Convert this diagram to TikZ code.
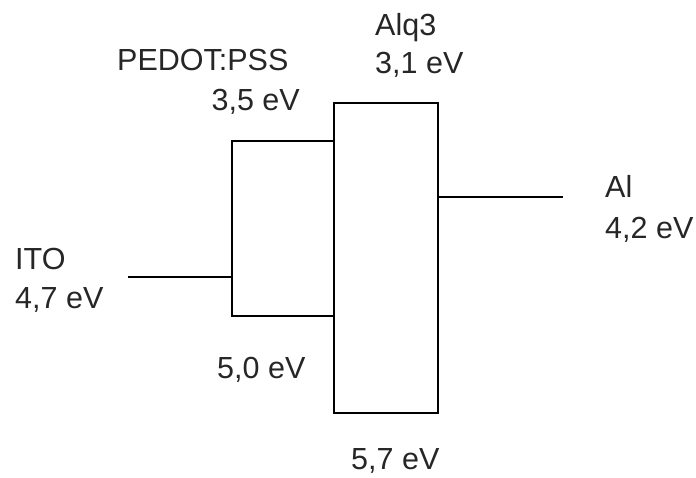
\documentclass[tikz,border=0pt]{standalone}
\usepackage{fontspec}
\setmainfont{Liberation Sans}
\usetikzlibrary{positioning}

\begin{document}
\begin{tikzpicture}[
  x=1pt, y=-1pt,
  % --- Style definitions ---
  level/.style={draw, line width=1.8pt, minimum width=#1, inner sep=0pt, outer sep=0pt},
  lbl/.style={inner sep=0pt, font=\fontsize{30.5}{38}\selectfont, text=black!85},
  wire/.style={line width=1.8pt},
]
\useasboundingbox (0,0) rectangle (696,477);

% ===== Energy levels =====
\node[level=102pt, minimum height=175pt] (pedot) at (283,228.5) {};
\node[level=104pt, minimum height=310pt, anchor=west] (alq) at (pedot.east |- 0,258) {};

% ===== Electrodes =====
\coordinate (itoend) at (128,277);
\coordinate (alend) at (563,197);
\draw[wire] (itoend) -- (itoend -| pedot.west);
\draw[wire] (alq.east |- alend) -- (alend);

% ===== Labels =====
\node[lbl, anchor=base west] (ito) at (15,269) {ITO};
\node[lbl, anchor=base west] (itoval) at (15,308) {4,7 eV};

\node[lbl, anchor=base west] (pss) at (117,70) {PEDOT:PSS};
\node[lbl, anchor=base east] (pssup) at (300,110) {3,5 eV};
\node[lbl, anchor=base west] (pssdown) at (217,378) {5,0 eV};

\node[lbl, anchor=base west] (alqname) at (375,35) {Alq3};
\node[lbl, anchor=base west] (alqup) at (375,73) {3,1 eV};
\node[lbl, anchor=base west] (alqdown) at (351,469) {5,7 eV};

\node[lbl, anchor=base west] (al) at (605,197) {Al};
\node[lbl, anchor=base west] (alval) at (605,238) {4,2 eV};

\end{tikzpicture}
\end{document}
